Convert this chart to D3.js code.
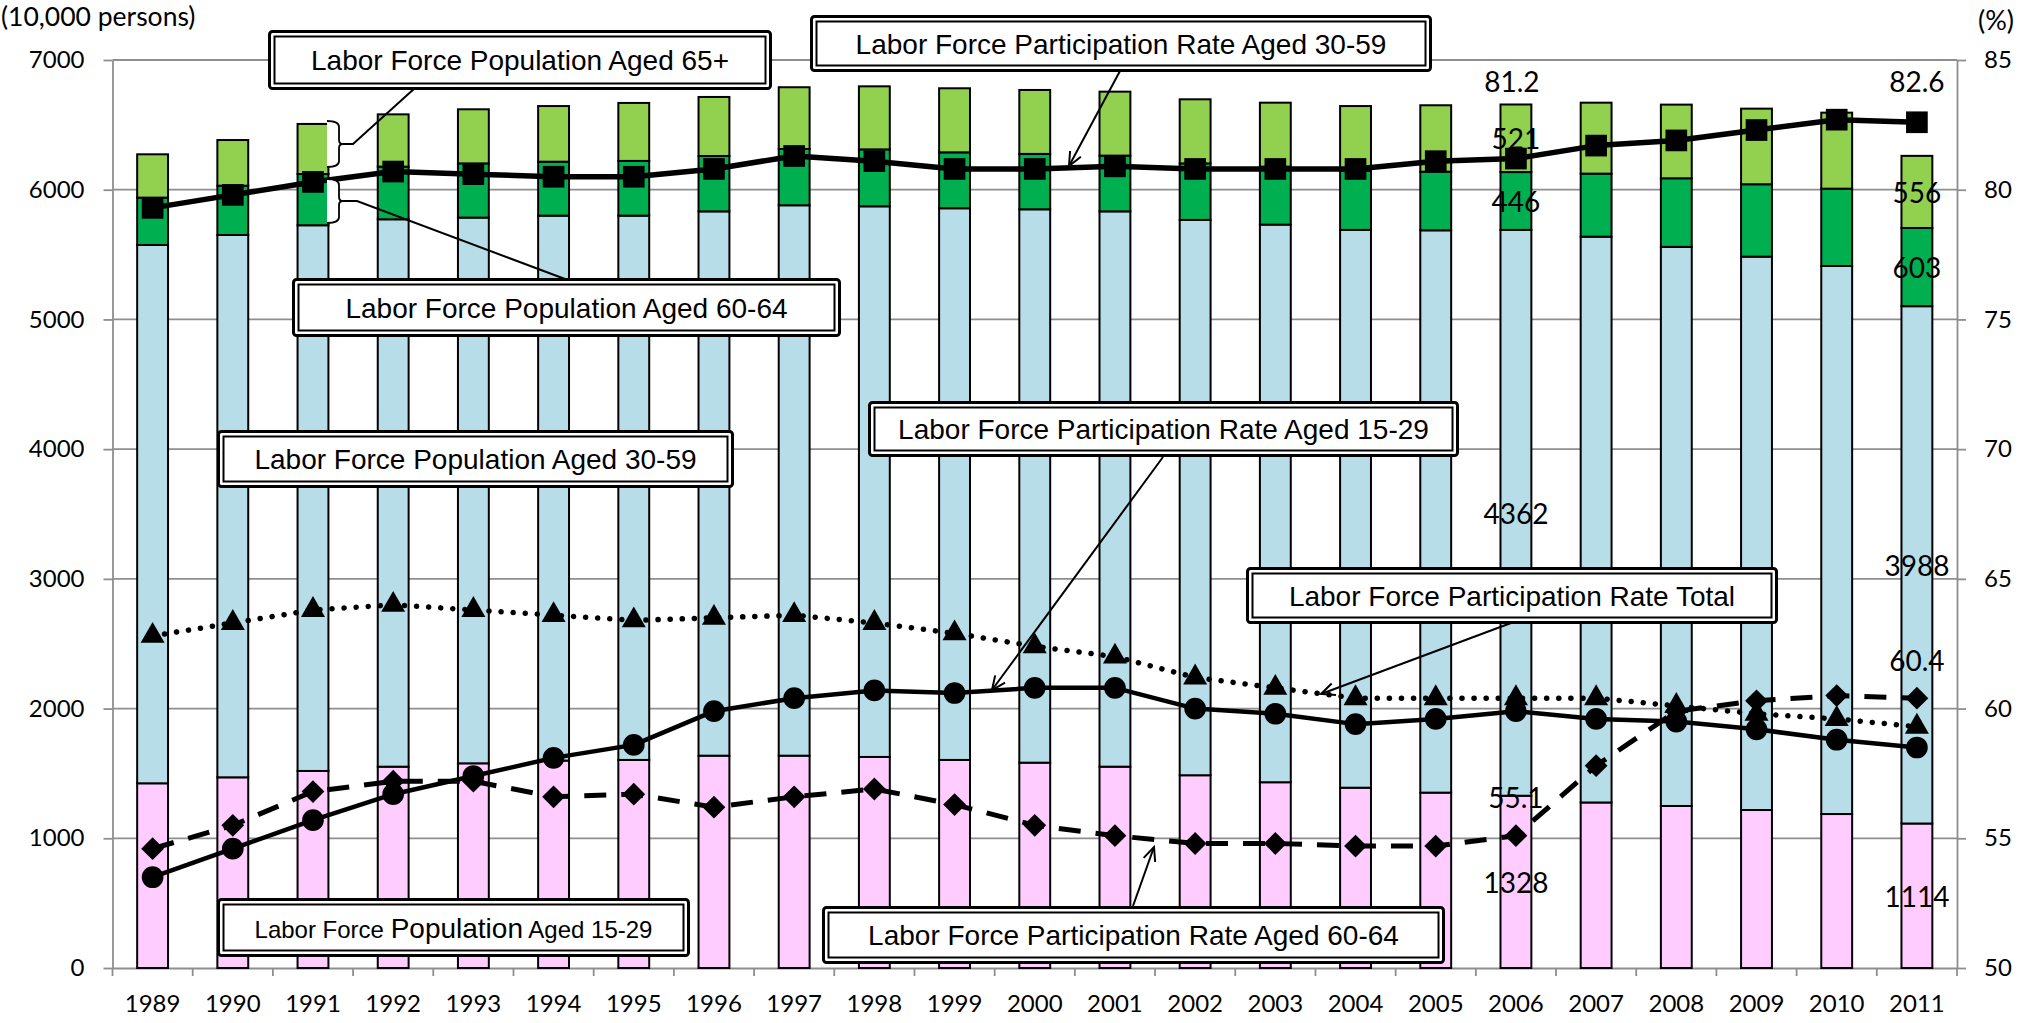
<!DOCTYPE html>
<html>
<head>
<meta charset="utf-8">
<script src="https://cdn.jsdelivr.net/npm/d3@7"></script>
<style>
  body { margin: 0; background: #fff; }
  svg { display: block; }
</style>
</head>
<body>
<svg id="chart" width="2028" height="1023"></svg>
<script>
// ---- data (labor force in 10,000 persons, participation rates in %) ----
const years = ["1989","1990","1991","1992","1993","1994","1995","1996","1997","1998","1999","2000",
               "2001","2002","2003","2004","2005","2006","2007","2008","2009","2010","2011"];
const pop1529   = [1424,1470,1519,1552,1578,1599,1604,1637,1637,1627,1604,1583,1552,1486,1432,1390,1352,1328,1276,1249,1218,1187,1114];
const pop3059   = [4150,4181,4207,4220,4207,4201,4196,4196,4243,4245,4253,4266,4281,4281,4299,4300,4335,4362,4362,4310,4266,4225,3988];
const pop6064   = [365,380,395,406,418,416,422,427,434,439,431,427,430,436,447,457,452,446,486,529,558,596,603];
const pop65plus = [334,352,386,403,417,429,447,455,476,486,494,493,493,494,493,498,512,521,547,568,583,586,556];
const rate3059  = [79.3,79.8,80.3,80.7,80.6,80.5,80.5,80.8,81.3,81.1,80.8,80.8,80.9,80.8,80.8,80.8,81.1,81.2,81.7,81.9,82.3,82.7,82.6];
const rate1529  = [53.5,54.6,55.7,56.7,57.4,58.1,58.6,59.9,60.4,60.7,60.6,60.8,60.8,60.0,59.8,59.4,59.6,59.9,59.6,59.5,59.2,58.8,58.5];
const rateTotal = [62.8,63.3,63.8,64.0,63.8,63.6,63.4,63.5,63.6,63.3,62.9,62.4,62.0,61.2,60.8,60.4,60.4,60.4,60.4,60.1,59.8,59.6,59.3];
const rate6064  = [54.6,55.5,56.8,57.2,57.2,56.6,56.7,56.2,56.6,56.9,56.3,55.5,55.1,54.8,54.8,54.7,54.7,55.1,57.8,59.9,60.3,60.5,60.4];
const leftTicks  = [0,1000,2000,3000,4000,5000,6000,7000];
const rightTicks = [50,55,60,65,70,75,80,85];
const leftUnit  = "(10,000 persons)";
const rightUnit = "(%)";

// ---- layout ----
const svg = d3.select("#chart");
const P = { left: 112.5, right: 1957, top: 60, bottom: 968 };
const NUM_FONT = "Lato, 'Open Sans', sans-serif";
const BOX_FONT = "'Liberation Sans', Arial, sans-serif";
const GRID = "#8e8e8e";

const x = d3.scaleBand().domain(years).range([P.left, P.right])
  .paddingInner(0.615).paddingOuter(0.3075);
const yL = d3.scaleLinear().domain([0, 7000]).range([P.bottom, P.top]);
const yR = d3.scaleLinear().domain([50, 85]).range([P.bottom, P.top]);
const cx = yr => x(yr) + x.bandwidth() / 2;

// ---- gridlines ----
svg.append("g").selectAll("line").data(leftTicks.slice(1)).join("line")
  .attr("x1", P.left).attr("x2", P.right)
  .attr("y1", d => yL(d)).attr("y2", d => yL(d))
  .attr("stroke", GRID).attr("stroke-width", 1.8);

// ---- axes ----
function styleAxis(g) {
  g.select(".domain").attr("stroke", GRID).attr("stroke-width", 1.8);
  g.selectAll(".tick line").attr("stroke", GRID).attr("stroke-width", 1.8);
  g.selectAll(".tick text").attr("font-family", NUM_FONT).attr("font-size", 24).attr("fill", "#000");
}
svg.append("g").attr("transform", `translate(${P.left},0)`)
  .call(d3.axisLeft(yL).tickValues(leftTicks).tickSize(9).tickSizeOuter(0).tickPadding(19).tickFormat(d3.format("d")))
  .call(styleAxis);
svg.append("g").attr("transform", `translate(${P.right},0)`)
  .call(d3.axisRight(yR).tickValues(rightTicks).tickSize(9).tickSizeOuter(0).tickPadding(18).tickFormat(d3.format("d")))
  .call(styleAxis);
svg.append("g").attr("transform", `translate(0,${P.bottom})`)
  .call(d3.axisBottom(x).tickSize(0).tickSizeOuter(0).tickPadding(27))
  .call(styleAxis);
// category boundary ticks
svg.append("g").selectAll("line").data(d3.range(years.length + 1)).join("line")
  .attr("x1", i => P.left + i * x.step()).attr("x2", i => P.left + i * x.step())
  .attr("y1", P.bottom).attr("y2", P.bottom + 8)
  .attr("stroke", GRID).attr("stroke-width", 1.8);

svg.append("text").attr("x", 1).attr("y", 26).text(leftUnit)
  .attr("font-family", NUM_FONT).attr("font-size", 26.5);
svg.append("text").attr("x", 1978).attr("y", 30).text(rightUnit)
  .attr("font-family", NUM_FONT).attr("font-size", 27);

// ---- stacked bars ----
const table = years.map((yr, i) => ({ year: yr, pop1529: pop1529[i], pop3059: pop3059[i], pop6064: pop6064[i], pop65plus: pop65plus[i] }));
const keys = ["pop1529", "pop3059", "pop6064", "pop65plus"];
const colors = { pop1529: "#ffccff", pop3059: "#b7dee8", pop6064: "#00b050", pop65plus: "#92d050" };
const stacked = d3.stack().keys(keys)(table);
svg.append("g").selectAll("g").data(stacked).join("g")
  .attr("fill", s => colors[s.key])
  .selectAll("rect").data(s => s).join("rect")
  .attr("x", d => x(d.data.year)).attr("width", x.bandwidth())
  .attr("y", d => yL(d[1])).attr("height", d => yL(d[0]) - yL(d[1]))
  .attr("stroke", "#000").attr("stroke-width", 2);

// ---- rate lines ----
function rateLine(values, opts) {
  const g = svg.append("g");
  const pts = years.map((yr, i) => [cx(yr), yR(values[i])]);
  g.append("path").attr("d", d3.line()(pts))
    .attr("fill", "none").attr("stroke", "#000")
    .attr("stroke-width", opts.width)
    .attr("stroke-dasharray", opts.dash || null)
    .attr("stroke-linecap", opts.cap || "butt")
    .attr("stroke-linejoin", "round");
  g.selectAll("path.m").data(pts).join("path").attr("class", "m")
    .attr("transform", p => `translate(${p[0]},${p[1]})${opts.rotate ? " rotate(45)" : ""}`)
    .attr("d", d3.symbol().type(opts.symbol).size(opts.size))
    .attr("fill", "#000");
}
rateLine(rateTotal, { width: 5.5, dash: "0.1 12", cap: "round", symbol: d3.symbolTriangle, size: 250 });
rateLine(rate6064,  { width: 5, dash: "22 15", symbol: d3.symbolSquare, size: 260, rotate: true });
rateLine(rate1529,  { width: 4.5, symbol: d3.symbolCircle, size: 370 });
rateLine(rate3059,  { width: 5.5, symbol: d3.symbolSquare, size: 470 });

// ---- data labels ----
const i06 = years.indexOf("2006"), i11 = years.indexOf("2011");
function segLabels(i) {
  const col = stacked.map(s => s[i]);
  return col.map(d => ({ x: cx(years[i]), y: yL((d[0] + d[1]) / 2), t: String(d[1] - d[0]) }));
}
const labels = [
  ...segLabels(i06), ...segLabels(i11),
  { x: cx("2006") - 4, y: yR(rate3059[i06]) - 78, t: rate3059[i06].toFixed(1) },
  { x: cx("2011"), y: yR(rate3059[i11]) - 41, t: rate3059[i11].toFixed(1) },
  { x: cx("2011"), y: yR(rate6064[i11]) - 38, t: rate6064[i11].toFixed(1) },
  { x: cx("2006"), y: yR(rate6064[i06]) - 39, t: rate6064[i06].toFixed(1) }
];
svg.append("g").selectAll("text").data(labels).join("text")
  .attr("x", d => d.x).attr("y", d => d.y).text(d => d.t)
  .attr("text-anchor", "middle").attr("dominant-baseline", "central")
  .attr("font-family", NUM_FONT).attr("font-size", 28).attr("fill", "#000");

// ---- callout boxes and leaders ----
const ann = svg.append("g").attr("stroke", "#000").attr("fill", "none");

function arrow(x1, y1, x2, y2) {
  ann.append("line").attr("x1", x1).attr("y1", y1).attr("x2", x2).attr("y2", y2).attr("stroke-width", 2);
  const a = Math.atan2(y1 - y2, x1 - x2), L = 15, s = 0.42;
  ann.append("path").attr("stroke-width", 2)
    .attr("d", `M${x2 + L * Math.cos(a - s)},${y2 + L * Math.sin(a - s)}L${x2},${y2}L${x2 + L * Math.cos(a + s)},${y2 + L * Math.sin(a + s)}`);
}
function brace(bx, y1, y2, tipX, endX, endY) {
  const w = 12, ym = (y1 + y2) / 2;
  ann.append("path").attr("stroke-width", 1.8).attr("fill", "#fff")
    .attr("d", `M${bx},${y1} Q${bx + w},${y1} ${bx + w},${y1 + 6} L${bx + w},${ym - 4} Q${bx + w},${ym} ${bx + w + 4},${ym}` +
               ` Q${bx + w},${ym} ${bx + w},${ym + 4} L${bx + w},${y2 - 6} Q${bx + w},${y2} ${bx},${y2}`);
  ann.append("path").attr("stroke-width", 2)
    .attr("d", `M${bx + w + 4},${ym} L${tipX},${ym} L${endX},${endY}`);
}

// leaders first so boxes sit on top
brace(327, 121, 167, 353, 415, 88);
brace(327, 179, 223, 357, 565, 279);
arrow(1120, 71, 1069, 166);
arrow(1163, 457, 992, 690);
arrow(1511, 623, 1321, 694);
arrow(1133, 906, 1154, 847);

function box(bx, by, bw, bh, parts) {
  const g = svg.append("g");
  g.append("rect").attr("x", bx + 1.5).attr("y", by + 1.5).attr("width", bw - 3).attr("height", bh - 3)
    .attr("rx", 3).attr("fill", "#fff").attr("stroke", "#000").attr("stroke-width", 3);
  g.append("rect").attr("x", bx + 6.5).attr("y", by + 6.5).attr("width", bw - 13).attr("height", bh - 13)
    .attr("fill", "none").attr("stroke", "#000").attr("stroke-width", 2);
  const t = g.append("text").attr("x", bx + bw / 2).attr("y", by + bh / 2 + 10)
    .attr("text-anchor", "middle").attr("font-family", BOX_FONT).attr("fill", "#000");
  parts.forEach(p => t.append("tspan").attr("font-size", p[1]).text(p[0]));
}
box(268, 30, 504, 60, [["Labor Force Population Aged 65+", 28]]);
box(810, 15, 622, 57, [["Labor Force Participation Rate Aged 30-59", 28]]);
box(292, 278, 549, 59, [["Labor Force Population Aged 60-64", 28]]);
box(217, 430, 517, 58, [["Labor Force Population Aged 30-59", 28]]);
box(868, 401, 591, 56, [["Labor Force Participation Rate Aged 15-29", 28]]);
box(1246, 567, 532, 57, [["Labor Force Participation Rate Total", 28]]);
box(217, 898, 473, 59, [["Labor Force ", 24], ["Population", 28], ["  Aged 15-29", 24]]);
box(822, 906, 623, 58, [["Labor Force Participation Rate Aged 60-64", 28]]);
</script>
</body>
</html>
